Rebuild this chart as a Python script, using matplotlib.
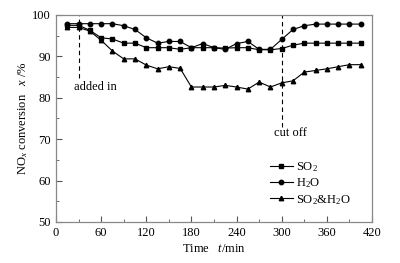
import numpy as np
import matplotlib
matplotlib.use("Agg")
import matplotlib.pyplot as plt
from matplotlib.ticker import MultipleLocator

plt.rcParams['font.family'] = ['Liberation Serif', 'DejaVu Serif']
plt.rcParams['mathtext.fontset'] = 'custom'
plt.rcParams['mathtext.rm'] = 'Liberation Serif'
plt.rcParams['mathtext.it'] = 'Liberation Serif:italic'

# tempo (min)
t = [15, 30, 45, 60, 75, 90, 105, 120, 135, 150, 165, 180, 195, 210,
     225, 240, 255, 270, 285, 300, 315, 330, 345, 360, 375, 390, 405]

so2 = [97.5, 97.5, 96.3, 94.5, 94.2, 93.2, 93.2, 92.1, 92.1, 92.1, 91.7, 92.1, 92.1, 92.1,
       92.0, 92.1, 92.1, 91.6, 91.6, 91.9, 92.7, 93.2, 93.2, 93.2, 93.2, 93.2, 93.2]
h2o = [97.9, 97.9, 97.9, 97.9, 97.9, 97.4, 96.5, 94.5, 93.2, 93.6, 93.6, 92.1, 93.1, 92.1,
       91.7, 93.1, 93.6, 91.7, 91.7, 94.1, 96.5, 97.4, 97.8, 97.8, 97.8, 97.8, 97.8]
so2_h2o = [97.0, 97.0, 96.1, 93.9, 91.3, 89.4, 89.4, 87.9, 87.0, 87.5, 87.1, 82.6, 82.6, 82.6,
           83.0, 82.6, 82.1, 83.8, 82.6, 83.6, 84.1, 86.2, 86.6, 87.0, 87.5, 88.0, 88.0]

fig = plt.figure(figsize=(4, 2.63), dpi=100)
ax = fig.add_axes([0.14, 0.156, 0.79, 0.787])

kw = dict(color='black', lw=0.8, markersize=3.2)
ax.plot(t, so2, marker='s', label='SO$_2$', **kw)
ax.plot(t, h2o, marker='o', label='H$_2$O', **kw)
ax.plot(t, so2_h2o, marker='^', label='SO$_2$&H$_2$O', **kw)

# linhas verticais: adição e corte
ax.plot([30, 30], [84.8, 100], color='black', lw=0.8, ls=(0, (4, 3)))
ax.plot([300, 300], [73, 100], color='black', lw=0.8, ls=(0, (4, 3)))
ax.text(24, 82.7, 'added in', fontsize=9, va='center', ha='left')
ax.text(290, 71.5, 'cut off', fontsize=9, va='center', ha='left')

ax.set_xlim(0, 420)
ax.set_ylim(50, 100)
ax.xaxis.set_major_locator(MultipleLocator(60))
ax.xaxis.set_minor_locator(MultipleLocator(30))
ax.yaxis.set_major_locator(MultipleLocator(10))
ax.yaxis.set_minor_locator(MultipleLocator(5))
ax.tick_params(which='both', direction='in', labelsize=9, color='#555555')
ax.tick_params(which='major', length=4)
ax.tick_params(which='minor', length=2.5)
for s in ax.spines.values():
    s.set_color('#888888')
    s.set_linewidth(0.9)

ax.set_xlabel('Time   $t$/min', fontsize=9, labelpad=3)
ax.set_ylabel('NO$_x$ conversion   $x$ /%', fontsize=9, labelpad=2)

ax.legend(loc='lower right', bbox_to_anchor=(0.97, 0.02), frameon=False, fontsize=9,
          handlelength=1.8, handletextpad=0.3, labelspacing=0.2)

fig.savefig('out.png', dpi=100)
